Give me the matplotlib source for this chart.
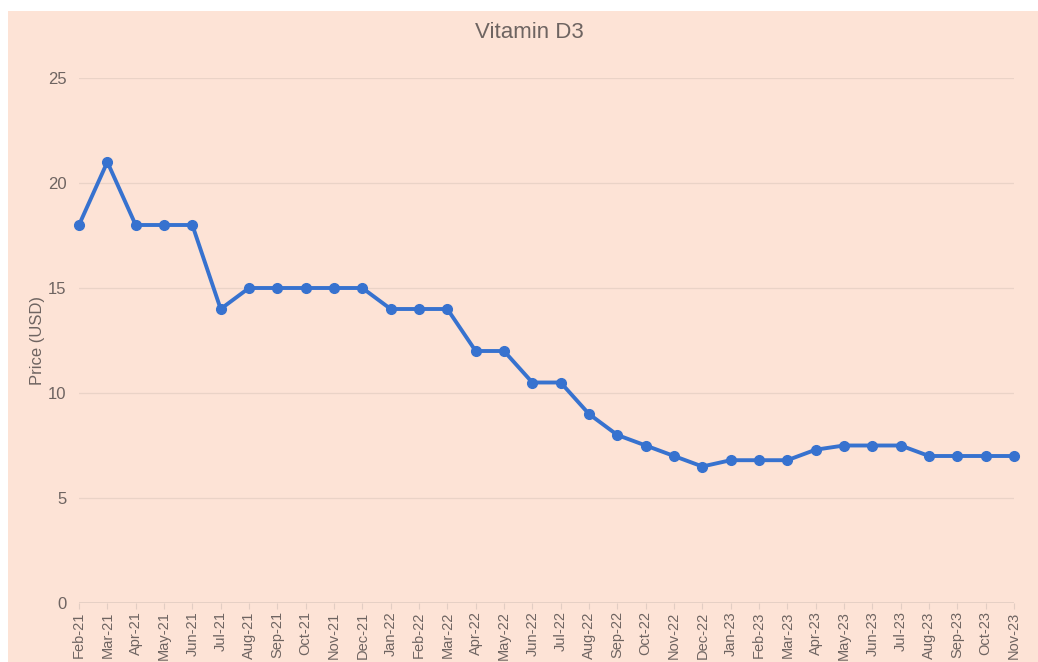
import matplotlib.pyplot as plt
from matplotlib.patches import Rectangle

months = ['Feb-21', 'Mar-21', 'Apr-21', 'May-21', 'Jun-21', 'Jul-21', 'Aug-21', 'Sep-21',
          'Oct-21', 'Nov-21', 'Dec-21', 'Jan-22', 'Feb-22', 'Mar-22', 'Apr-22', 'May-22',
          'Jun-22', 'Jul-22', 'Aug-22', 'Sep-22', 'Oct-22', 'Nov-22', 'Dec-22', 'Jan-23',
          'Feb-23', 'Mar-23', 'Apr-23', 'May-23', 'Jun-23', 'Jul-23', 'Aug-23', 'Sep-23',
          'Oct-23', 'Nov-23']
prices = [18, 21, 18, 18, 18, 14, 15, 15, 15, 15, 15, 14, 14, 14, 12, 12,
          10.5, 10.5, 9, 8, 7.5, 7, 6.5, 6.8, 6.8, 6.8, 7.3, 7.5, 7.5, 7.5, 7, 7,
          7, 7]
y_ticks = [0, 5, 10, 15, 20, 25]

bg = '#fde3d6'
text_col = '#6e6461'
plt.rcParams['font.family'] = ['Liberation Sans', 'DejaVu Sans']

fig = plt.figure(figsize=(10.38, 6.62), dpi=100)
fig.patch.set_facecolor('white')
# peach panel, white strip on top and left
fig.patches.append(Rectangle((8 / 1038, 0), 1 - 8 / 1038, 1 - 11 / 662,
                             transform=fig.transFigure, facecolor=bg,
                             edgecolor='none', zorder=-10))

ax = fig.add_axes([79 / 1038, 59 / 662, 935 / 1038, 525 / 662])
ax.set_facecolor('none')

x = list(range(len(months)))
ax.plot(x, prices, color='#3772cf', lw=2.8, marker='o', ms=7, clip_on=False, zorder=3)

ax.set_xlim(0, len(months) - 1)
ax.set_ylim(0, 25)
ax.set_yticks(y_ticks)
ax.set_xticks(x)
ax.set_xticklabels(months, rotation=90)

for s in ax.spines.values():
    s.set_visible(False)
ax.grid(axis='y', color='#ead3c7', lw=0.9)
ax.set_axisbelow(True)
ax.axhline(0, color='#e2cdc3', lw=1.2, zorder=1)

ax.tick_params(axis='y', length=0, pad=9, labelsize=12, labelcolor=text_col)
ax.tick_params(axis='x', length=4, width=0.8, color='#e2cdc3', pad=2,
               labelsize=10.5, labelcolor=text_col)

ax.set_ylabel('Price (USD)', fontsize=12, color=text_col, labelpad=2)
fig.text(529 / 1038, 1 - 33 / 662, 'Vitamin D3', ha='center', va='center',
         fontsize=16, color=text_col)

fig.savefig('out.png', dpi=100)
